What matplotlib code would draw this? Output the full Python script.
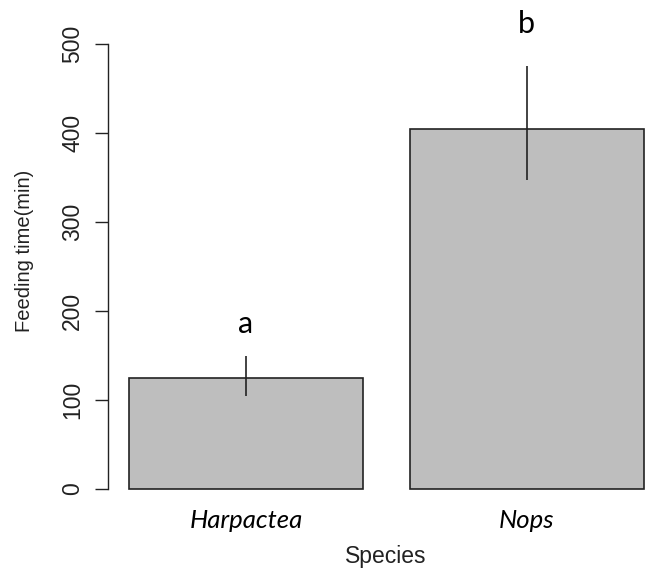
import numpy as np
import matplotlib
matplotlib.use("Agg")
from matplotlib import pyplot as plt

# data
species = ["Harpactea", "Nops"]
feeding_time = [125, 405]
err_low = [104, 347]
err_high = [150, 475]
letters = ["a", "b"]
letter_y = [185, 523]
yticks = [0, 100, 200, 300, 400, 500]

W, H = 646, 573
fig = plt.figure(figsize=(W / 100, H / 100), dpi=100)

# R style barplot: width 1, space 0.2, xlim extended by 4%
x = np.array([0.7, 1.9])
xlim = (0.112, 2.488)
ylim = (-15, 545)
# axes box placed in pixels (right side runs off the image as in the crop)
left_px, right_px = 108.4, 664.4
top_px = 489 - 0.89 * ylim[1]
bot_px = 489 - 0.89 * ylim[0]
ax = fig.add_axes([left_px / W, 1 - bot_px / H,
                   (right_px - left_px) / W, (bot_px - top_px) / H])

ax.bar(x, feeding_time, width=1.0, color="#bebebe", edgecolor="#222222",
       linewidth=1.2, zorder=2)
ax.vlines(x, err_low, err_high, color="#222222", linewidth=1.2, zorder=3)

for xi, lab, ly in zip(x, letters, letter_y):
    ax.text(xi, ly, lab, ha="center", va="center", fontsize=22,
            family="Lato", color="black")

ax.set_xlim(xlim)
ax.set_ylim(ylim)

for s in ["top", "right", "bottom"]:
    ax.spines[s].set_visible(False)
ax.spines["left"].set_bounds(0, 500)
ax.spines["left"].set_linewidth(1.0)
ax.spines["left"].set_color("#222222")

ax.set_yticks(yticks)
ax.set_yticklabels([str(t) for t in yticks], rotation=90, va="center",
                   fontsize=16.5, family="Liberation Sans", color="#222222")
ax.tick_params(axis="y", length=9.4, width=1.0, color="#222222", pad=8)

ax.set_xticks(x)
ax.set_xticklabels(species, style="italic", fontsize=18.5, family="Lato")
ax.tick_params(axis="x", length=0, pad=5)

fig.text(386 / W, 1 - 557 / H, "Species", ha="center", va="center",
         fontsize=16.5, family="Liberation Sans", color="#222222")
fig.text(25 / W, 1 - 251 / H, "Feeding time(min)", ha="center", va="center",
         rotation=90, fontsize=14.5, family="Liberation Sans", color="#222222")

fig.savefig("out.png", dpi=100)
